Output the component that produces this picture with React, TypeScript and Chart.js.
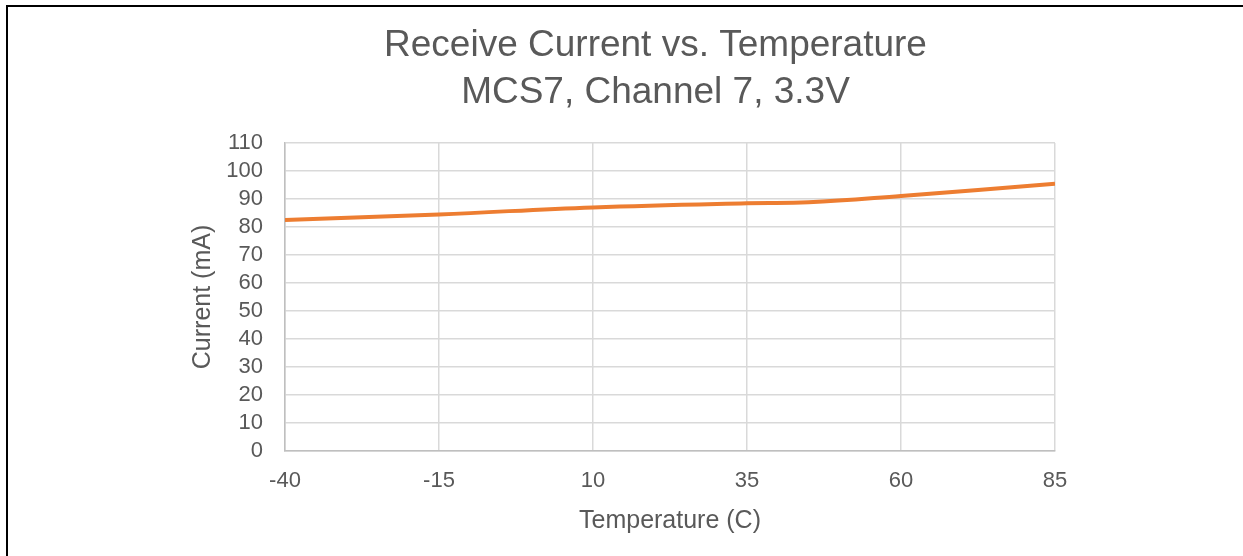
import React, { useEffect, useRef } from "react";
import { Chart, registerables } from "chart.js";

Chart.register(...registerables);

const titleLines = ["Receive Current vs. Temperature", "MCS7, Channel 7, 3.3V"];
const xAxisTitle = "Temperature (C)";
const yAxisTitle = "Current (mA)";
const temperatures = [-40, -15, 10, 35, 45, 60, 85];
const currents = [82.5, 84.5, 87.0, 88.5, 88.8, 91.1, 95.4];
const xTicks = { min: -40, max: 85, step: 25 };
const yTicks = { min: 0, max: 110, step: 10 };

const FONT = '"Liberation Sans", Arial, sans-serif';
const TEXT = "#595959";
const GRID = "#d9d9d9";

export default function App() {
  const ref = useRef<HTMLCanvasElement | null>(null);

  useEffect(() => {
    document.body.style.margin = "0";
    if (!ref.current) return;
    const chart = new Chart(ref.current, {
      type: "line",
      data: {
        datasets: [
          {
            label: "Current",
            data: temperatures.map((t, i) => ({ x: t, y: currents[i] })),
            borderColor: "#ED7D31",
            backgroundColor: "#ED7D31",
            borderWidth: 4,
            pointRadius: 0,
            tension: 0.4,
            fill: false,
          },
        ],
      },
      options: {
        responsive: false,
        animation: false,
        devicePixelRatio: 1,
        layout: { padding: { left: 188, right: 120, top: 22, bottom: 20 } },
        plugins: {
          legend: { display: false },
          tooltip: { enabled: false },
          title: {
            display: true,
            text: titleLines,
            color: TEXT,
            font: { family: FONT, size: 37, weight: "normal", lineHeight: 1.27 },
            padding: { top: 0, bottom: 27 },
          },
        },
        scales: {
          x: {
            type: "linear",
            min: xTicks.min,
            max: xTicks.max,
            ticks: {
              stepSize: xTicks.step,
              autoSkip: false,
              maxRotation: 0,
              color: TEXT,
              font: { family: FONT, size: 22 },
              padding: 17,
            },
            grid: { color: GRID, lineWidth: 1.5, drawTicks: false },
            border: { color: "#bfbfbf", width: 1.5 },
            title: {
              display: true,
              text: xAxisTitle,
              color: TEXT,
              font: { family: FONT, size: 25, lineHeight: 1.2 },
              padding: 0,
            },
            afterFit: (s: any) => {
              s.height = 85;
            },
          },
          y: {
            type: "linear",
            position: "left",
            min: yTicks.min,
            max: yTicks.max,
            ticks: {
              stepSize: yTicks.step,
              autoSkip: false,
              color: TEXT,
              font: { family: FONT, size: 22 },
              padding: 22,
            },
            grid: { color: GRID, lineWidth: 1.5, drawTicks: false },
            border: { color: "#bfbfbf", width: 1.5 },
            title: {
              display: true,
              text: yAxisTitle,
              color: TEXT,
              font: { family: FONT, size: 25, lineHeight: 1.2 },
              padding: 0,
            },
            afterFit: (s: any) => {
              s.width = 97;
            },
          },
          ySpacer: {
            type: "linear",
            position: "right",
            min: yTicks.min,
            max: yTicks.max,
            ticks: { display: false },
            grid: { display: false, drawTicks: false },
            border: { display: false },
            afterFit: (s: any) => {
              s.width = 68;
            },
          },
        },
      },
    });
    return () => chart.destroy();
  }, []);

  return (
    <div style={{ position: "fixed", left: 0, top: 0, width: 1243, height: 556, background: "#fff" }}>
      <canvas ref={ref} width={1243} height={556} style={{ display: "block" }} />
      <div
        style={{
          position: "absolute",
          left: 6,
          top: 5,
          right: 0,
          bottom: 0,
          borderLeft: "2px solid #000",
          borderTop: "2px solid #000",
          pointerEvents: "none",
        }}
      />
    </div>
  );
}
